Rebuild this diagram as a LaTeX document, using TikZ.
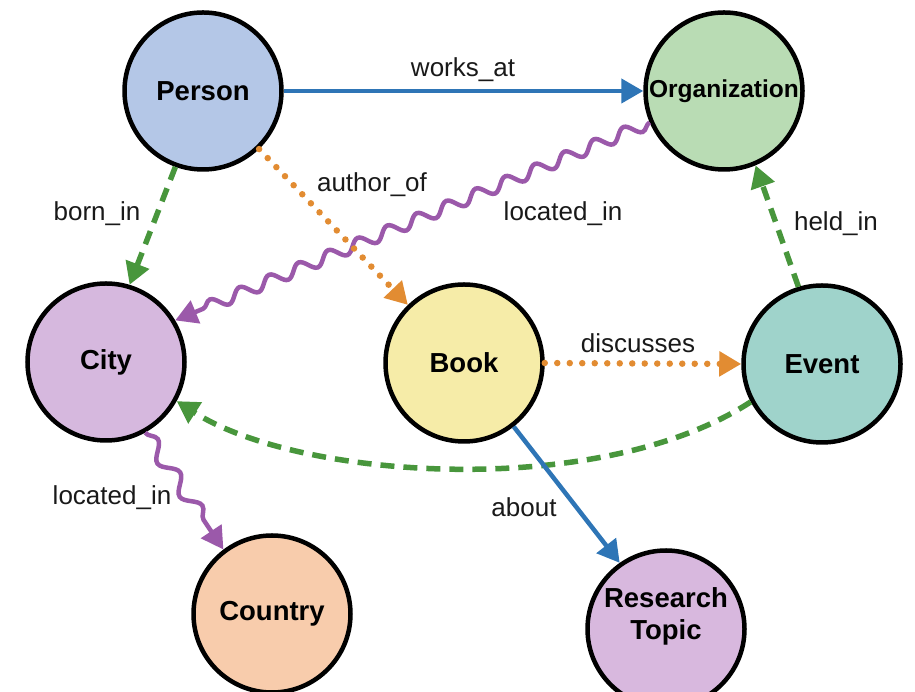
\documentclass[tikz,border=0pt]{standalone}
\usepackage{fontspec}
\setmainfont{Liberation Sans}
\usetikzlibrary{arrows.meta,decorations.pathmorphing}

\definecolor{relblue}{RGB}{46,117,182}
\definecolor{relgreen}{RGB}{72,150,60}
\definecolor{relorange}{RGB}{226,140,50}
\definecolor{relpurple}{RGB}{155,89,170}
\definecolor{personfill}{RGB}{180,199,231}
\definecolor{orgfill}{RGB}{185,220,180}
\definecolor{cityfill}{RGB}{214,184,222}
\definecolor{bookfill}{RGB}{246,236,168}
\definecolor{eventfill}{RGB}{159,211,203}
\definecolor{countryfill}{RGB}{248,204,172}
\definecolor{topicfill}{RGB}{216,184,222}

\begin{document}
\begin{tikzpicture}[x=1pt,y=1pt,
  nodefont/.style={font=\fontsize{27.5}{32}\selectfont\bfseries},
  entity/.style={circle, draw=black, line width=4.5pt, minimum size=157pt,
    inner sep=0pt, align=center, nodefont},
  lbl/.style={font=\fontsize{26}{30}\selectfont, text=black!90},
  tiphead/.style={-{Triangle[length=22pt,width=24pt]}},
  solidrel/.style={tiphead, draw=relblue, line width=4.5pt},
  dashrel/.style={tiphead, draw=relgreen, line width=5.5pt,
    dash pattern=on 14pt off 9pt},
  dotrel/.style={tiphead, draw=relorange, line width=6.5pt,
    line cap=round, dash pattern=on 0pt off 12.5pt},
  wavyrel/.style={tiphead, draw=relpurple, line width=4.5pt, decorate},
]
\useasboundingbox (0,0) rectangle (915,692);

% entities
\node[entity, fill=personfill] (person) at (203,601) {Person};
\node[entity, fill=orgfill, font=\fontsize{24.5}{28}\selectfont\bfseries] (org) at (724,601) {Organization};
\node[entity, fill=cityfill] (city) at (106,330) {City};
\node[entity, fill=bookfill] (book) at (464,329) {Book};
\node[entity, fill=eventfill] (event) at (822,328) {Event};
\node[entity, fill=countryfill] (country) at (272,78) {Country};
\node[entity, fill=topicfill,
  label={[nodefont, align=center, yshift=13pt]center:Research\\Topic}] (topic) at (666,63) {};

% relations
\draw[dashrel] (event.208) .. controls (600,192) and (300,212) .. (city.-29);
\draw[solidrel] (person.east) -- (org.west);
\draw[dashrel] (person.250) -- (city.73);
\draw[dashrel] (event.107) -- (org.-67);
\draw[wavyrel, decoration={snake, amplitude=6pt, segment length=32pt, post length=18pt}]
  (org.203) -- (city.31);
\draw[wavyrel, decoration={snake, amplitude=7pt, segment length=40pt, post length=18pt}]
  (city.-61) -- (country.127);
\draw[dotrel] (person.-46) -- (book.134);
\draw[dotrel] (book.east) -- (event.west);
\draw[solidrel] (book.-52) -- (topic.125);

% relation labels
\node[lbl] (l-works) at (463,622) {works\_at};
\node[lbl] (l-born) at (97,478) {born\_in};
\node[lbl] (l-author) at (372,507) {author\_of};
\node[lbl] (l-orgloc) at (563,478) {located\_in};
\node[lbl] (l-disc) at (638,349) {discusses};
\node[lbl] (l-held) at (836,468) {held\_in};
\node[lbl] (l-about) at (524,185) {about};
\node[lbl] (l-cityloc) at (112,194) {located\_in};
\end{tikzpicture}
\end{document}
